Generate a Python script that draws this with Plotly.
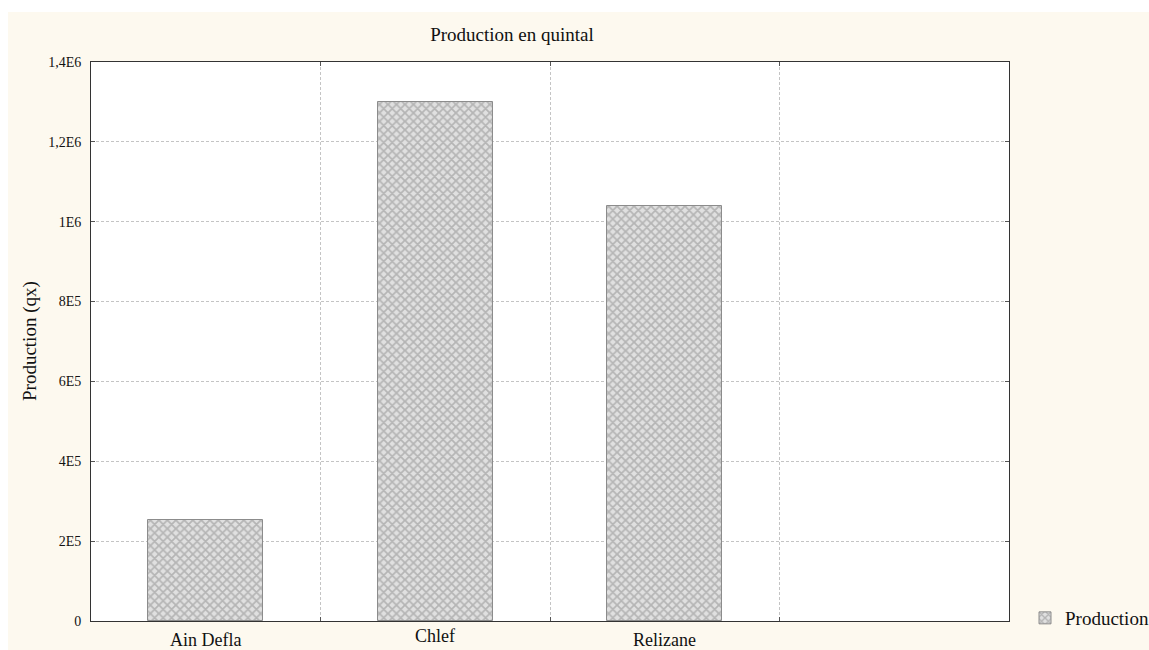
import plotly.graph_objects as go

categories = ["Ain Defla", "Chlef", "Relizane"]
production = [254000, 1299000, 1039000]
n_slots = 4
y_tickvals = [0, 200000, 400000, 600000, 800000, 1000000, 1200000, 1400000]
y_ticktext = ["0", "2E5", "4E5", "6E5", "8E5", "1E6", "1,2E6", "1,4E6"]

W, H = 1149, 650
PL, PR, PT, PB = 91, 1009, 62, 621   # plot area in page pixels
L, R, T, B = PL, W - PR, PT, H - PB
pw, ph = W - L - R, H - T - B

def px_x(p):
    return (p - PL) / pw

def px_y(p):
    return (PB - p) / ph

FONT = "Liberation Serif, Times New Roman, serif"
CREAM = "#fdf9ef"

xpos = [i + 0.5 for i in range(len(categories))]

fig = go.Figure()
fig.add_trace(go.Bar(
    x=xpos, y=production, width=0.5, name="Production",
    marker=dict(color="#d0d0d0",
                line=dict(color="#8c8c8c", width=1),
                pattern=dict(shape="x", size=6, solidity=0.5,
                             fgcolor="#8a8a8a", bgcolor="#e0e0e0")),
    showlegend=True,
))

annotations = []
label_offsets = [0, 4, 0]
for xc, lab, off in zip(xpos, categories, label_offsets):
    annotations.append(dict(
        x=xc, y=px_y(640 - off), xref="x", yref="paper", text=lab,
        showarrow=False, xanchor="center", yanchor="middle",
        font=dict(family=FONT, size=18, color="#111")))
annotations.append(dict(
    x=px_x(30), y=px_y(341), xref="paper", yref="paper",
    text="Production (qx)", textangle=-90, showarrow=False,
    xanchor="center", yanchor="middle",
    font=dict(family=FONT, size=19, color="#111")))

shapes = [
    dict(type="rect", xref="paper", yref="paper", layer="below",
         x0=px_x(8), x1=px_x(W + 10), y0=px_y(H + 10), y1=px_y(12),
         fillcolor=CREAM, line=dict(width=0)),
    dict(type="rect", xref="paper", yref="paper", layer="below",
         x0=0, x1=1, y0=0, y1=1, fillcolor="white", line=dict(width=0)),
]

fig.update_layout(
    width=W, height=H,
    margin=dict(l=L, r=R, t=T, b=B, pad=0, autoexpand=False),
    paper_bgcolor="white", plot_bgcolor="white",
    title=dict(text="Production en quintal", x=512 / W, xanchor="center",
               xref="container", y=1 - 34 / H, yanchor="middle",
               yref="container",
               font=dict(family=FONT, size=19, color="#111")),
    font=dict(family=FONT, color="#111"),
    xaxis=dict(range=[0, n_slots], tickmode="linear", tick0=0, dtick=1,
               showticklabels=False, ticks="inside", ticklen=4,
               tickcolor="#555", showgrid=True, gridcolor="#c4c4c4",
               griddash="3px,2px", gridwidth=1, showline=True, mirror="ticks",
               linecolor="#333", linewidth=1, zeroline=False, fixedrange=True),
    yaxis=dict(range=[0, 1400000], tickvals=y_tickvals, ticktext=y_ticktext,
               ticks="inside", ticklen=4, tickcolor="#555",
               ticklabelstandoff=6,
               tickfont=dict(family=FONT, size=14, color="#111"),
               showgrid=True, gridcolor="#c4c4c4", griddash="3px,2px",
               gridwidth=1, showline=True, mirror="ticks", linecolor="#333",
               linewidth=1, zeroline=False),
    legend=dict(x=px_x(1025), y=px_y(618), xanchor="left", yanchor="middle",
                bgcolor="rgba(0,0,0,0)",
                font=dict(family=FONT, size=19, color="#111")),
    bargap=0,
    annotations=annotations,
    shapes=shapes,
)

fig.write_html(
    "out.html",
    config={"displayModeBar": False},
    post_script="document.body.style.margin='0';document.body.style.overflow='hidden';",
)
